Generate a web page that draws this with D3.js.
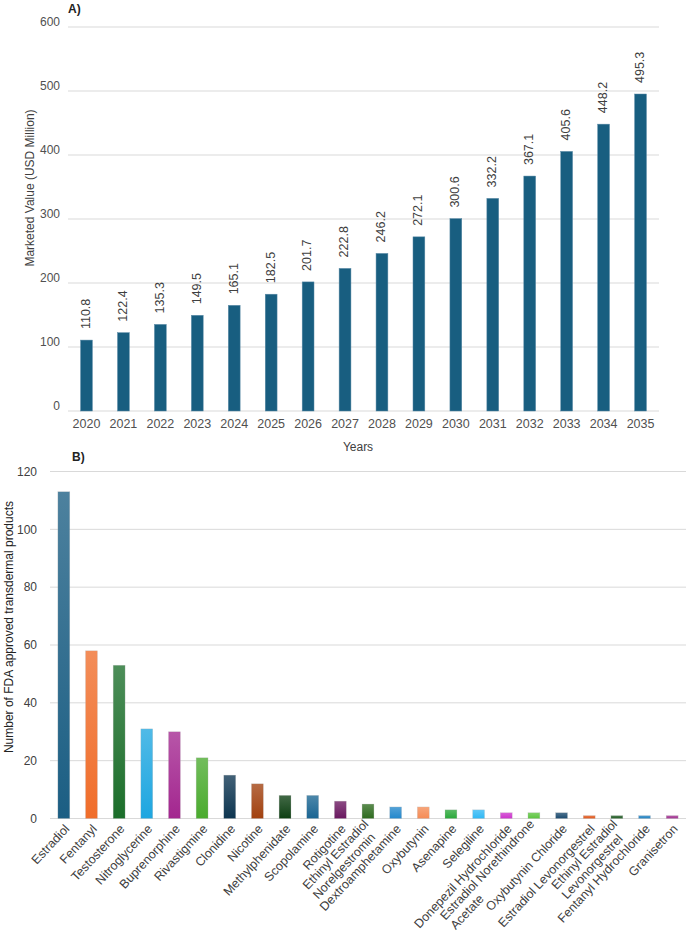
<!DOCTYPE html>
<html>
<head>
<meta charset="utf-8">
<script src="https://cdn.jsdelivr.net/npm/d3@7"></script>
<style>
  body { margin: 0; background: #fff; }
  text { font-family: "Liberation Sans", Arial, sans-serif; }
</style>
</head>
<body>
<svg id="chart"></svg>
<script>
// Panel A: marketed value per year
const years = ["2020","2021","2022","2023","2024","2025","2026","2027","2028","2029","2030","2031","2032","2033","2034","2035"];
const marketValues = [110.8, 122.4, 135.3, 149.5, 165.1, 182.5, 201.7, 222.8, 246.2, 272.1, 300.6, 332.2, 367.1, 405.6, 448.2, 495.3];
const ticksA = [0, 100, 200, 300, 400, 500, 600];

// Panel B: FDA approved transdermal products per drug
const drugs = ["Estradiol", "Fentanyl", "Testosterone", "Nitroglycerine", "Buprenorphine", "Rivastigmine",
  "Clonidine", "Nicotine", "Methylphenidate", "Scopolamine", "Rotigotine", "Ethinyl Estradiol\nNorelgestromin",
  "Dextroamphetamine", "Oxybutynin", "Asenapine", "Selegiline", "Donepezil Hydrochloride",
  "Estradiol  Norethindrone\nAcetate", "Oxybutynin Chloride", "Estradiol Levonorgestrel",
  "Ethinyl Estradiol\nLevonorgestrel", "Fentanyl Hydrochloride", "Granisetron"];
const approvedCounts = [113, 58, 53, 31, 30, 21, 15, 12, 8, 8, 6, 5, 4, 4, 3, 3, 2, 2, 2, 1, 1, 1, 1];
const drugColors = ["#1b5e83", "#f06d2a", "#1b6e2a", "#1ea6e0", "#a3268f", "#4aab2e", "#0d3550", "#a2410f",
  "#0d3f12", "#1a6592", "#6a1860", "#2e6b1f", "#2488cc", "#f58b55", "#2aa83a", "#30b8f5", "#cc33cc",
  "#5cc43f", "#1b4a6e", "#e0561a", "#1f5a22", "#2080c0", "#a03090"];
const ticksB = [0, 20, 40, 60, 80, 100, 120];

const width = 688, height = 943;
const barColor = "#185e80";
const gridColor = "#d9d9d9";
const tickColor = "#505050";

const svg = d3.select("#chart").attr("width", width).attr("height", height);
svg.append("rect").attr("width", width).attr("height", height).attr("fill", "#fff");

// ---------- Panel A ----------
const xA = d3.scaleBand().domain(years).range([68, 659]).paddingInner(0.68).paddingOuter(0.34);
const yA = d3.scaleLinear().domain([0, 600]).range([411, 27]);

const gA = svg.append("g");
gA.selectAll("line.grid").data(ticksA).enter().append("line")
  .attr("x1", 68).attr("x2", 659)
  .attr("y1", d => yA(d)).attr("y2", d => yA(d))
  .attr("stroke", gridColor).attr("stroke-width", 1);

gA.selectAll("text.ytick").data(ticksA).enter().append("text")
  .attr("x", 60).attr("y", d => yA(d) - 5).attr("dy", "0.35em")
  .attr("text-anchor", "end").attr("font-size", 12).attr("fill", tickColor)
  .text(d => d);

gA.selectAll("rect.bar").data(marketValues).enter().append("rect")
  .attr("x", (d, i) => xA(years[i])).attr("width", xA.bandwidth())
  .attr("y", d => yA(d)).attr("height", d => yA(0) - yA(d))
  .attr("fill", barColor).attr("stroke", "#5a8aa5").attr("stroke-width", 0.5);

gA.selectAll("text.val").data(marketValues).enter().append("text")
  .attr("transform", (d, i) => `translate(${xA(years[i]) + xA.bandwidth() / 2 - 1},${yA(d) - 11}) rotate(-90)`)
  .attr("dy", "0.35em").attr("font-size", 12.5).attr("fill", "#404040")
  .text(d => d.toFixed(1));

gA.selectAll("text.xtick").data(years).enter().append("text")
  .attr("x", d => xA(d) + xA.bandwidth() / 2).attr("y", yA(0) + 13).attr("dy", "0.35em")
  .attr("text-anchor", "middle").attr("font-size", 12.5).attr("fill", tickColor)
  .text(d => d);

gA.append("text").attr("x", 358).attr("y", 447).attr("dy", "0.35em")
  .attr("text-anchor", "middle").attr("font-size", 12).attr("fill", "#404040").text("Years");
gA.append("text").attr("transform", "translate(30,188) rotate(-90)").attr("dy", "0.35em")
  .attr("text-anchor", "middle").attr("font-size", 12).attr("fill", "#404040")
  .text("Marketed Value (USD Million)");
gA.append("text").attr("x", 68).attr("y", 13).attr("font-size", 12).attr("font-weight", "bold")
  .attr("fill", "#222").text("A)");

// ---------- Panel B ----------
const xB = d3.scaleBand().domain(drugs).range([50, 686]).paddingInner(0.57).paddingOuter(0.285);
const yB = d3.scaleLinear().domain([0, 120]).range([818.5, 471.5]);

const defs = svg.append("defs");
drugColors.forEach((c, i) => {
  const lg = defs.append("linearGradient").attr("id", "grad" + i)
    .attr("x1", 0).attr("y1", 0).attr("x2", 0).attr("y2", 1);
  lg.append("stop").attr("offset", "0%").attr("stop-color", d3.interpolateRgb(c, "#ffffff")(0.22));
  lg.append("stop").attr("offset", "100%").attr("stop-color", c);
});

const gB = svg.append("g");
gB.selectAll("line.grid").data(ticksB).enter().append("line")
  .attr("x1", 50).attr("x2", 686)
  .attr("y1", d => yB(d)).attr("y2", d => yB(d))
  .attr("stroke", gridColor).attr("stroke-width", 1);

gB.selectAll("text.ytick").data(ticksB).enter().append("text")
  .attr("x", 37).attr("y", d => yB(d)).attr("dy", "0.35em")
  .attr("text-anchor", "end").attr("font-size", 12).attr("fill", "#404040")
  .text(d => d);

gB.selectAll("rect.bar").data(approvedCounts).enter().append("rect")
  .attr("x", (d, i) => xB(drugs[i])).attr("width", xB.bandwidth())
  .attr("y", d => yB(d)).attr("height", d => yB(0) - yB(d))
  .attr("fill", (d, i) => `url(#grad${i})`)
  .attr("stroke", "#bbbbbb").attr("stroke-opacity", 0.5).attr("stroke-width", 0.5);

// rotated category labels, multi-line ones left-aligned inside their block
const lineH = 14;
drugs.forEach(name => {
  const lines = name.split("\n");
  const g = gB.append("g")
    .attr("transform", `translate(${xB(name) + xB.bandwidth() / 2 + 3},${yB(0) + 8}) rotate(-47)`);
  const texts = lines.map((ln, k) => g.append("text")
    .attr("y", (k - (lines.length - 1) / 2) * lineH).attr("dy", "0.35em")
    .attr("font-size", 12.5).attr("fill", "#404040").text(ln));
  const w = d3.max(texts, t => t.node().getComputedTextLength());
  texts.forEach(t => t.attr("x", -w));
});

gB.append("text").attr("transform", "translate(9,627) rotate(-90)").attr("dy", "0.35em")
  .attr("text-anchor", "middle").attr("font-size", 12).attr("fill", "#222")
  .text("Number of FDA approved transdermal products");
gB.append("text").attr("x", 72).attr("y", 461).attr("font-size", 12).attr("font-weight", "bold")
  .attr("fill", "#222").text("B)");
</script>
</body>
</html>
